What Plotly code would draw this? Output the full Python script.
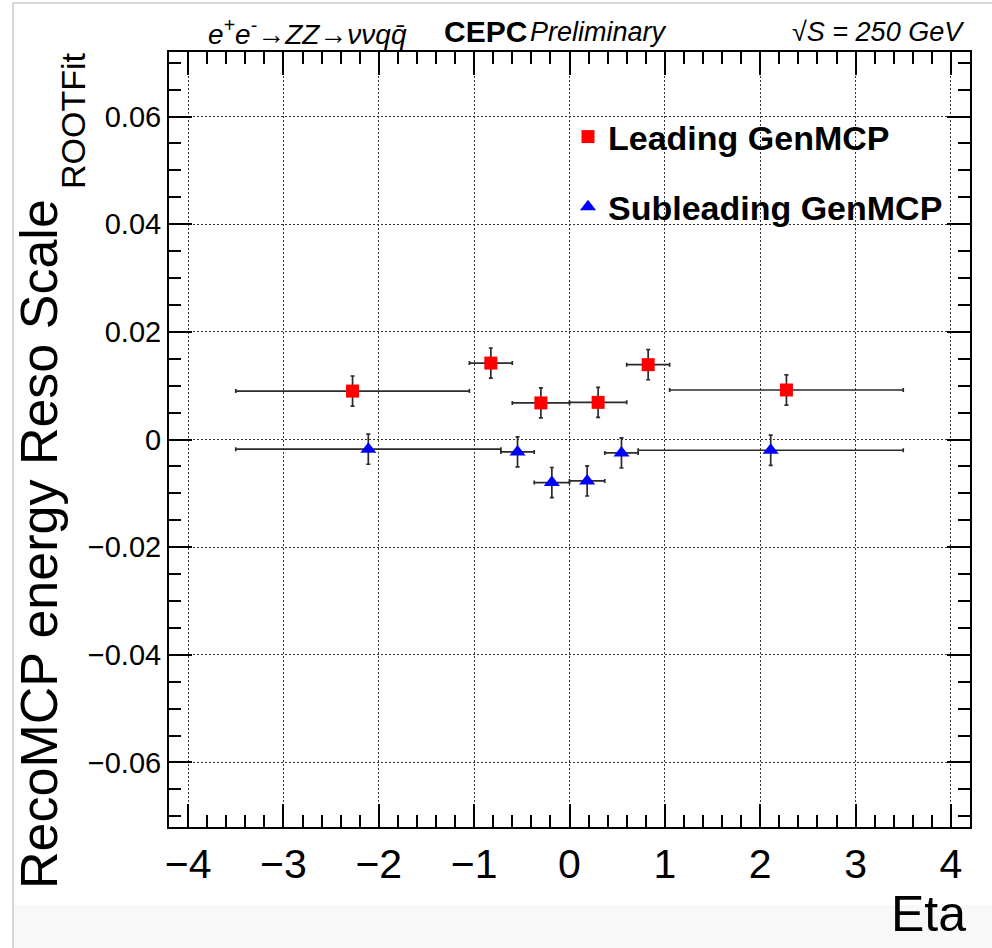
import plotly.graph_objects as go

# ---- data ----
lead_eta = [-2.275, -0.825, -0.30, 0.30, 0.825, 2.275]
lead_eta_halfwidth = [1.225, 0.225, 0.30, 0.30, 0.225, 1.225]
lead_val = [0.0090, 0.0142, 0.0068, 0.0069, 0.0139, 0.0092]
lead_err = [0.0028, 0.0028, 0.0028, 0.0028, 0.0028, 0.0028]

sub_eta = [-2.11, -0.545, -0.185, 0.185, 0.545, 2.11]
sub_eta_halfwidth = [1.39, 0.175, 0.185, 0.185, 0.175, 1.39]
sub_val = [-0.0018, -0.0023, -0.0080, -0.0077, -0.0025, -0.0020]
sub_err = [0.0028, 0.0028, 0.0028, 0.0028, 0.0028, 0.0028]

x_tickvals = [-4, -3, -2, -1, 0, 1, 2, 3, 4]
x_ticktext = ["\u22124", "\u22123", "\u22122", "\u22121", "0", "1", "2", "3", "4"]
y_tickvals = [-0.06, -0.04, -0.02, 0, 0.02, 0.04, 0.06]
y_ticktext = ["\u22120.06", "\u22120.04", "\u22120.02", "0", "0.02", "0.04", "0.06"]

FONT = "Liberation Sans, Arial, Helvetica, sans-serif"
ERRC = "#2b2b2b"

fig = go.Figure()
fig.add_trace(go.Scatter(
    x=lead_eta, y=lead_val, mode="markers", name="<b>Leading GenMCP</b>",
    legendgroup="a",
    marker=dict(symbol="square", size=13, color="#ff0000"),
    error_x=dict(type="data", array=lead_eta_halfwidth, color=ERRC, thickness=1.7, width=2),
    error_y=dict(type="data", array=lead_err, color=ERRC, thickness=1.7, width=2),
))
fig.add_trace(go.Scatter(
    x=sub_eta, y=sub_val, mode="markers", name="<b>Subleading GenMCP</b>",
    legendgroup="b",
    marker=dict(symbol="triangle-up", size=14, color="#0000ff"),
    error_x=dict(type="data", array=sub_eta_halfwidth, color=ERRC, thickness=1.7, width=2),
    error_y=dict(type="data", array=sub_err, color=ERRC, thickness=1.7, width=2),
))

axis_common = dict(
    showline=True, linecolor="black", linewidth=2, mirror="ticks",
    ticks="inside", tickcolor="black", tickwidth=1.5, ticklen=23,
    showgrid=True, gridcolor="#333333", gridwidth=1, griddash="2px,2px",
    zeroline=False,
)
fig.update_xaxes(
    range=[-4.2, 4.2], tickvals=x_tickvals, ticktext=x_ticktext,
    tickfont=dict(family=FONT, size=41, color="black"),
    minor=dict(dtick=0.2, tick0=0, ticks="inside", ticklen=12, tickwidth=1.5,
               tickcolor="black", showgrid=False),
    **axis_common,
)
fig.update_yaxes(
    range=[-0.072, 0.072], tickvals=y_tickvals, ticktext=y_ticktext,
    tickfont=dict(family=FONT, size=29, color="black"),
    minor=dict(dtick=0.005, tick0=0, ticks="inside", ticklen=12, tickwidth=1.5,
               tickcolor="black", showgrid=False),
    **axis_common,
)

L, R, T, B = 169, 22, 52, 121
W, H = 992, 948
PW, PH = W - L - R, H - T - B

def px_x(px):
    return (px - L) / PW

def px_y(py):
    return (H - B - py) / PH

annotations = [
    dict(text="RecoMCP energy Reso Scale", textangle=-90,
         x=px_x(39), y=px_y(544), xanchor="center", yanchor="middle",
         font=dict(family=FONT, size=52, color="black")),
    dict(text="ROOTFit", textangle=-90,
         x=px_x(73), y=px_y(121), xanchor="center", yanchor="middle",
         font=dict(family=FONT, size=34, color="black")),
    dict(text="Eta", x=px_x(968), y=px_y(914), xanchor="right", yanchor="middle",
         font=dict(family=FONT, size=50, color="black")),
    dict(text="<i>e<sup>+</sup>e<sup>-</sup>\u2192ZZ\u2192\u03bd\u03bdqq\u0304</i>",
         x=px_x(206), y=px_y(32), xanchor="left", yanchor="middle",
         font=dict(family=FONT, size=28, color="black")),
    dict(text="<b>CEPC</b>", x=px_x(442), y=px_y(32), xanchor="left", yanchor="middle",
         font=dict(family=FONT, size=30, color="black")),
    dict(text="<i>Preliminary</i>", x=px_x(528), y=px_y(32), xanchor="left", yanchor="middle",
         font=dict(family=FONT, size=27, color="black")),
    dict(text="<i>\u221aS = 250 GeV</i>", x=px_x(967), y=px_y(32), xanchor="right", yanchor="middle",
         font=dict(family=FONT, size=27, color="black")),
]
for a in annotations:
    a.update(xref="paper", yref="paper", showarrow=False)

shapes = [
    dict(type="line", xref="paper", yref="paper", x0=px_x(13), x1=px_x(13),
         y0=px_y(3), y1=px_y(948), line=dict(color="#c8c8c8", width=1.5)),
    dict(type="line", xref="paper", yref="paper", x0=px_x(13), x1=px_x(992),
         y0=px_y(3), y1=px_y(3), line=dict(color="#c8c8c8", width=1.5)),
    dict(type="rect", xref="paper", yref="paper", x0=px_x(14), x1=px_x(992),
         y0=px_y(905), y1=px_y(948), line=dict(width=0), fillcolor="#f8f8f8", layer="below"),
]

fig.update_layout(
    width=W, height=H,
    margin=dict(l=L, r=R, t=T, b=B),
    paper_bgcolor="white", plot_bgcolor="white",
    font=dict(family=FONT, color="black"),
    showlegend=True,
    legend=dict(x=px_x(568), y=px_y(108), xanchor="left", yanchor="top",
                bgcolor="rgba(0,0,0,0)", borderwidth=0,
                font=dict(family=FONT, size=34, color="black"),
                traceorder="grouped", tracegroupgap=23, itemsizing="trace"),
    annotations=annotations,
    shapes=shapes,
)

fig.write_html("out.html")
